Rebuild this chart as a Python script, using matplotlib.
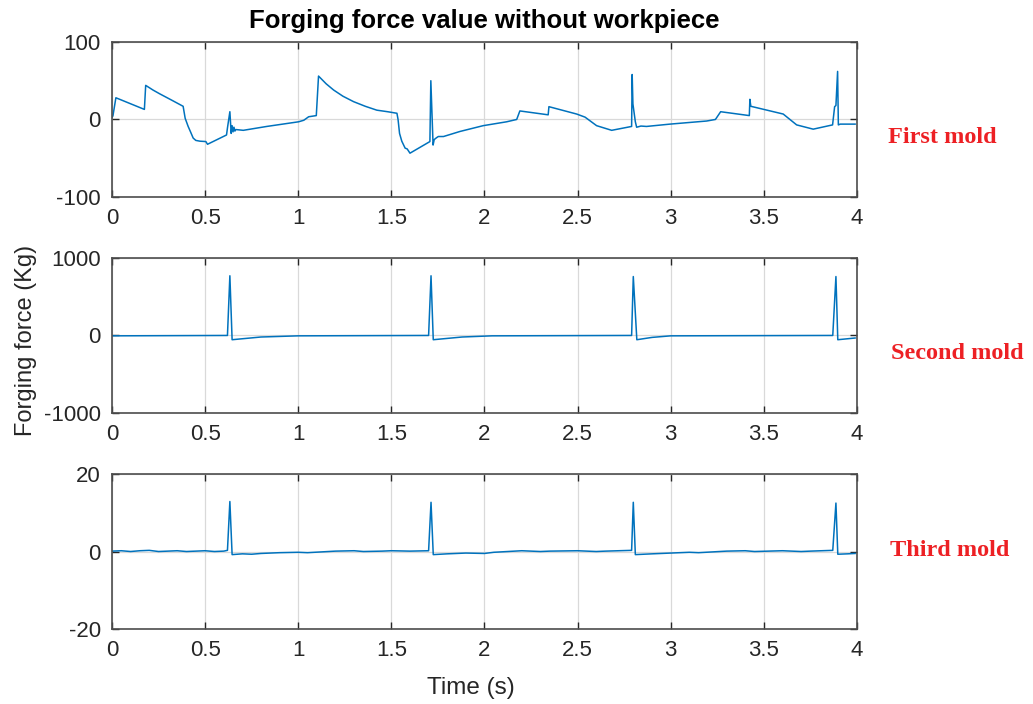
import numpy as np
import matplotlib.pyplot as plt

# mold 1
t1 = [0.000, 0.005, 0.021, 0.174, 0.181, 0.220, 0.257, 0.320, 0.382, 0.393, 0.409, 0.420,
      0.436, 0.450, 0.472, 0.504, 0.513, 0.615, 0.620, 0.633, 0.640, 0.645, 0.650, 0.655,
      0.660, 0.665, 0.705, 0.831, 1.002, 1.030, 1.056, 1.097, 1.109, 1.150, 1.190, 1.240,
      1.297, 1.360, 1.422, 1.480, 1.530, 1.536, 1.544, 1.556, 1.574, 1.585, 1.600, 1.707,
      1.712, 1.724, 1.730, 1.740, 1.752, 1.780, 1.868, 1.993, 2.119, 2.173, 2.190, 2.342,
      2.346, 2.495, 2.540, 2.602, 2.683, 2.790, 2.793, 2.797, 2.810, 2.817, 2.840, 2.870,
      2.996, 3.193, 3.240, 3.268, 3.422, 3.425, 3.430, 3.604, 3.676, 3.765, 3.869, 3.880,
      3.887, 3.896, 3.900, 3.910, 3.990]
f1 = [3, 4.5, 28, 13, 44, 38, 33, 25, 17, 1.5, -9, -15,
      -24, -27, -28, -28.5, -32, -20, -11, 10, -18, -8, -16, -10,
      -15, -13, -14, -9, -3, -1, 3.5, 5, 56, 46, 38, 30,
      23, 17, 12, 10, 8, 0, -18, -28, -37, -38, -43.5, -28.5,
      50, -33, -26, -24, -22, -22, -15.5, -8, -3, 0, 11, 6,
      16.5, 7, 3, -8, -14, -9, 58, 20, -3, -10, -8.5, -9,
      -6, -2, 0, 10, 5, 26, 17, 7, -7, -12.5, -7, 16.5,
      18, 62, -7, -6, -6]

# mold 2
t2 = [0.0, 0.62, 0.633, 0.645, 0.80, 1.0, 1.70, 1.713, 1.725, 1.88, 2.04, 2.79, 2.799,
      2.818, 2.90, 3.0, 3.87, 3.887, 3.897, 3.99]
f2 = [-5, 0, 770, -55, -20, -5, 0, 770, -55, -20, -5, 0, 760,
      -55, -25, -5, 0, 760, -55, -33]

# mold 3
t3 = [0.0, 0.05, 0.1, 0.15, 0.2, 0.25, 0.3, 0.35, 0.4, 0.45, 0.5, 0.55, 0.6, 0.62, 0.633,
      0.645, 0.7, 0.75, 0.8, 0.9, 1.0, 1.05, 1.2, 1.3, 1.35, 1.45, 1.5, 1.6, 1.7, 1.713,
      1.725, 1.8, 1.9, 2.0, 2.05, 2.2, 2.3, 2.35, 2.5, 2.6, 2.65, 2.79, 2.799, 2.81, 2.9,
      3.0, 3.1, 3.15, 3.3, 3.4, 3.45, 3.6, 3.7, 3.75, 3.87, 3.887, 3.897, 3.95, 3.99]
f3 = [0.1, 0.2, 0.0, 0.2, 0.3, 0.0, 0.1, 0.2, 0.0, 0.1, 0.2, 0.0, 0.1, 0.3, 12.9,
      -0.8, -0.6, -0.7, -0.5, -0.3, -0.2, -0.3, 0.1, 0.2, 0.0, 0.1, 0.2, 0.1, 0.2, 12.7,
      -0.8, -0.6, -0.4, -0.5, -0.2, 0.2, 0.0, 0.1, 0.2, 0.0, 0.1, 0.3, 12.7, -0.8, -0.6,
      -0.4, -0.2, -0.3, 0.1, 0.2, 0.0, 0.2, 0.0, 0.1, 0.3, 12.5, -0.7, -0.6, -0.5]

times = [t1, t2, t3]
forces = [f1, f2, f3]
ylims = [(-100, 100), (-1000, 1000), (-20, 20)]
yticks = [[-100, 0, 100], [-1000, 0, 1000], [-20, 0, 20]]
molds = ['First mold', 'Second mold', 'Third mold']
xticks = [0, 0.5, 1, 1.5, 2, 2.5, 3, 3.5, 4]
xticklabels = ['0', '0.5', '1', '1.5', '2', '2.5', '3', '3.5', '4']

plt.rcParams['font.family'] = ['Liberation Sans', 'DejaVu Sans']
plt.rcParams['axes.unicode_minus'] = False
fig = plt.figure(figsize=(10.33, 7.04), dpi=100)

bottoms = [0.7202, 0.4134, 0.1065]
label_y = [0.804, 0.498, 0.218]
label_x = [0.86, 0.863, 0.862]
dark = '#262626'
for i in range(3):
    ax = fig.add_axes([0.1084, bottoms[i], 0.7212, 0.2202])
    ax.plot(times[i], forces[i], color='#0072BD', lw=1.1)
    ax.set_xlim(0, 4)
    ax.set_ylim(*ylims[i])
    ax.set_xticks(xticks)
    ax.set_xticklabels(xticklabels)
    ax.set_yticks(yticks[i])
    ax.set_yticklabels([str(v) for v in yticks[i]])
    ax.grid(True, color='#d9d9d9', lw=0.9)
    ax.set_axisbelow(True)
    ax.tick_params(direction='in', top=True, right=True, length=5, width=1,
                   colors=dark, labelcolor=dark, labelsize=16, pad=8)
    for s in ax.spines.values():
        s.set_color('#4d4d4d')
        s.set_linewidth(1.2)
    fig.text(label_x[i], label_y[i], molds[i], color='#ed2024', fontsize=17.5,
             fontweight='bold', family='Liberation Serif', ha='left', va='center')

fig.text(0.469, 0.970, 'Forging force value without workpiece', fontsize=18.5,
         fontweight='bold', ha='center', va='center', color='black')
fig.text(0.456, 0.023, 'Time (s)', fontsize=17.5, ha='center', va='center', color=dark)
fig.text(0.025, 0.517, 'Forging force (Kg)', fontsize=17, rotation=90,
         ha='center', va='center', color=dark)

fig.savefig('out.png', dpi=100)
